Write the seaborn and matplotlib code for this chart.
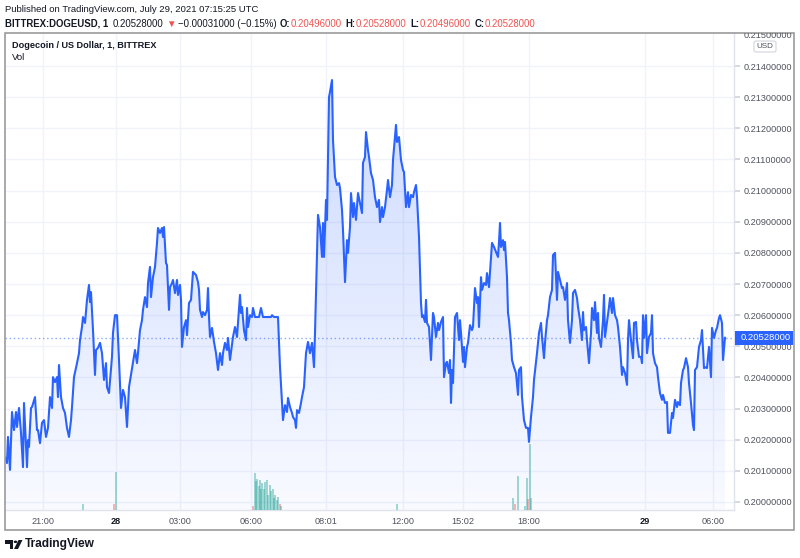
import numpy as np
import pandas as pd
import matplotlib
matplotlib.use('Agg')
import matplotlib.pyplot as plt
import seaborn as sns
from matplotlib.patches import Rectangle, FancyBboxPatch, Polygon, Circle

# ---- data (1-minute DOGEUSD, bar index on x) ----
bar_idx = [
    0, 2, 3, 5, 7, 9, 11, 12, 14, 16, 18, 19, 22, 23, 24, 26, 27, 30, 32, 33,
    35, 37, 39, 41, 43, 45, 47, 48, 50, 52, 53, 54, 56, 58, 60, 62, 64, 66, 67, 69,
    72, 74, 75, 77, 78, 80, 82, 84, 85, 86, 88, 90, 91, 93, 95, 97, 99, 101, 102, 104,
    107, 108, 110, 112, 114, 116, 118, 120, 122, 124, 126, 128, 130, 132, 133, 135, 137, 138, 140, 142,
    143, 145, 146, 148, 150, 152, 153, 155, 157, 158, 159, 161, 162, 164, 165, 167, 168, 170, 172, 173,
    175, 176, 177, 179, 181, 182, 184, 186, 188, 191, 193, 194, 195, 197, 198, 200, 202, 203, 204, 205,
    207, 209, 211, 213, 215, 217, 218, 220, 222, 223, 225, 227, 228, 230, 232, 233, 235, 236, 237, 239,
    241, 242, 243, 245, 247, 248, 250, 252, 254, 256, 258, 260, 262, 264, 266, 267, 269, 271, 273, 275,
    277, 278, 280, 282, 283, 285, 287, 288, 290, 291, 292, 294, 296, 297, 299, 301, 303, 305, 307, 309,
    310, 312, 313, 315, 317, 318, 319, 321, 322, 324, 325, 327, 328, 330, 332, 334, 335, 337, 338, 340,
    342, 343, 345, 346, 348, 349, 351, 353, 354, 357, 358, 360, 361, 363, 364, 366, 368, 370, 372, 374,
    375, 377, 378, 380, 382, 383, 385, 387, 388, 391, 392, 394, 396, 398, 399, 401, 403, 404, 406, 408,
    409, 411, 412, 414, 416, 417, 418, 420, 421, 422, 424, 426, 428, 429, 431, 433, 434, 436, 438, 439,
    441, 442, 444, 445, 446, 447, 448, 450, 452, 454, 455, 456, 458, 459, 460, 462, 463, 465, 467, 468,
    470, 472, 473, 474, 476, 477, 479, 481, 482, 484, 485, 487, 489, 491, 493, 494, 495, 496, 498, 499,
    500, 502, 503, 504, 506, 507, 509, 511, 513, 514, 516, 517, 519, 521, 523, 524, 526, 528, 529, 532,
    534, 536, 537, 539, 540, 542, 543, 545, 547, 548, 550, 552, 553, 557, 558, 560, 562, 563, 565, 567,
    568, 570, 572, 573, 575, 577, 578, 579, 581, 582, 584, 586, 587, 589, 590, 592, 593, 594, 596, 598,
    599, 600, 602, 604, 605, 607, 608, 610, 612, 613, 615, 617, 618, 620, 622, 623, 624, 626, 628, 629,
    631, 632, 634, 636, 637, 638, 639, 641, 642, 644, 646, 647, 648, 650, 652, 653, 655, 657, 658, 660,
    662, 663, 665, 667, 668, 670, 672, 673, 675, 676, 678, 679, 681, 683, 684, 686, 688, 689, 690, 692,
    694, 696, 697, 699, 701, 702, 704, 706, 707, 709, 711, 712, 714, 715, 717, 718, 720,
]
price = [
    0.20144, 0.20125, 0.20209, 0.20103, 0.20289, 0.20231, 0.20289, 0.20241, 0.20302, 0.20222,
    0.20112, 0.20318, 0.20112, 0.20199, 0.20177, 0.20302, 0.20305, 0.20337, 0.20231, 0.20231,
    0.20189, 0.20254, 0.20263, 0.20209, 0.20238, 0.20337, 0.20302, 0.20401, 0.20385, 0.20401,
    0.20337, 0.20440, 0.20337, 0.20302, 0.20286, 0.20238, 0.20209, 0.20263, 0.20305, 0.20401,
    0.20446, 0.20478, 0.20520, 0.20562, 0.20594, 0.20575, 0.20649, 0.20697, 0.20642, 0.20674,
    0.20552, 0.20408, 0.20488, 0.20495, 0.20511, 0.20478, 0.20392, 0.20446, 0.20369, 0.20350,
    0.20466, 0.20543, 0.20600, 0.20600, 0.20456, 0.20302, 0.20360, 0.20337, 0.20241, 0.20369,
    0.20408, 0.20446, 0.20488, 0.20446, 0.20478, 0.20552, 0.20584, 0.20617, 0.20658, 0.20626,
    0.20703, 0.20755, 0.20658, 0.20722, 0.20755, 0.20832, 0.20880, 0.20864, 0.20880, 0.20851,
    0.20883, 0.20767, 0.20761, 0.20617, 0.20690, 0.20703, 0.20713, 0.20671, 0.20713, 0.20665,
    0.20697, 0.20649, 0.20498, 0.20562, 0.20584, 0.20536, 0.20639, 0.20649, 0.20739, 0.20729,
    0.20706, 0.20681, 0.20617, 0.20594, 0.20610, 0.20600, 0.20617, 0.20687, 0.20594, 0.20530,
    0.20559, 0.20514, 0.20478, 0.20424, 0.20478, 0.20440, 0.20478, 0.20511, 0.20488, 0.20527,
    0.20456, 0.20504, 0.20530, 0.20562, 0.20530, 0.20575, 0.20665, 0.20607, 0.20626, 0.20552,
    0.20520, 0.20623, 0.20562, 0.20600, 0.20594, 0.20623, 0.20594, 0.20594, 0.20594, 0.20623,
    0.20594, 0.20594, 0.20594, 0.20594, 0.20594, 0.20600, 0.20594, 0.20594, 0.20594, 0.20433,
    0.20318, 0.20263, 0.20311, 0.20289, 0.20334, 0.20305, 0.20286, 0.20273, 0.20263, 0.20238,
    0.20295, 0.20286, 0.20318, 0.20337, 0.20369, 0.20478, 0.20514, 0.20478, 0.20511, 0.20433,
    0.20543, 0.20787, 0.20922, 0.20883, 0.20787, 0.20896, 0.20787, 0.20970, 0.20906, 0.21300,
    0.21317, 0.21355, 0.21162, 0.21044, 0.21018, 0.21024, 0.21008, 0.20938, 0.20873, 0.20706,
    0.20841, 0.20800, 0.20883, 0.20992, 0.20915, 0.20960, 0.20906, 0.20992, 0.20976, 0.20928,
    0.21089, 0.21108, 0.21188, 0.21130, 0.21108, 0.21056, 0.21034, 0.20979, 0.20947, 0.20970,
    0.20899, 0.20947, 0.20915, 0.20947, 0.21002, 0.21034, 0.20979, 0.21018, 0.21098, 0.21211,
    0.21156, 0.21172, 0.21098, 0.21066, 0.21060, 0.20947, 0.20995, 0.20947, 0.20986, 0.20979,
    0.20995, 0.21018, 0.20979, 0.20851, 0.20639, 0.20594, 0.20600, 0.20578, 0.20649, 0.20575,
    0.20562, 0.20456, 0.20607, 0.20594, 0.20530, 0.20575, 0.20552, 0.20578, 0.20594, 0.20401,
    0.20446, 0.20450, 0.20414, 0.20456, 0.20318, 0.20424, 0.20382, 0.20594, 0.20607, 0.20520,
    0.20584, 0.20543, 0.20450, 0.20498, 0.20433, 0.20498, 0.20511, 0.20568, 0.20552, 0.20562,
    0.20687, 0.20639, 0.20658, 0.20562, 0.20722, 0.20681, 0.20703, 0.20697, 0.20735, 0.20690,
    0.20739, 0.20832, 0.20819, 0.20803, 0.20787, 0.20835, 0.20896, 0.20819, 0.20841, 0.20809,
    0.20835, 0.20722, 0.20607, 0.20584, 0.20511, 0.20456, 0.20433, 0.20414, 0.20344, 0.20424,
    0.20433, 0.20337, 0.20263, 0.20238, 0.20238, 0.20193, 0.20273, 0.20337, 0.20392, 0.20478,
    0.20543, 0.20575, 0.20530, 0.20462, 0.20511, 0.20584, 0.20600, 0.20658, 0.20681, 0.20793,
    0.20800, 0.20649, 0.20739, 0.20687, 0.20690, 0.20649, 0.20703, 0.20584, 0.20511, 0.20584,
    0.20671, 0.20681, 0.20655, 0.20626, 0.20584, 0.20520, 0.20610, 0.20552, 0.20562, 0.20520,
    0.20446, 0.20543, 0.20623, 0.20584, 0.20642, 0.20543, 0.20607, 0.20527, 0.20498, 0.20584,
    0.20665, 0.20530, 0.20578, 0.20626, 0.20655, 0.20607, 0.20655, 0.20600, 0.20584, 0.20562,
    0.20498, 0.20408, 0.20433, 0.20414, 0.20376, 0.20520, 0.20584, 0.20520, 0.20462, 0.20575,
    0.20578, 0.20520, 0.20466, 0.20466, 0.20446, 0.20600, 0.20527, 0.20600, 0.20478, 0.20530,
    0.20543, 0.20600, 0.20478, 0.20446, 0.20433, 0.20401, 0.20350, 0.20328, 0.20344, 0.20318,
    0.20321, 0.20222, 0.20222, 0.20286, 0.20270, 0.20328, 0.20305, 0.20321, 0.20311, 0.20382,
    0.20424, 0.20430, 0.20462, 0.20433, 0.20382, 0.20318, 0.20247, 0.20231, 0.20424, 0.20433,
    0.20498, 0.20520, 0.20552, 0.20430, 0.20433, 0.20430, 0.20498, 0.20401, 0.20559, 0.20527,
    0.20552, 0.20559, 0.20591, 0.20600, 0.20575, 0.20456, 0.20528,
]

# volume spikes (bar index, volume in k DOGE, direction)
vol_bar = [78, 109, 111, 248, 250, 251, 252, 254, 255, 256, 257, 259, 260, 262, 263, 265, 266,
           268, 269, 270, 272, 273, 275, 276, 392, 508, 510, 513, 520, 522, 523, 525, 526]
vol_value = [60, 60, 370, 40, 360, 280, 300, 230, 290, 200, 260, 200, 270, 290, 150, 240, 180,
             200, 120, 150, 100, 130, 60, 40, 60, 120, 60, 330, 40, 310, 110, 640, 120]
vol_up = [1, 0, 1, 0, 1, 1, 1, 1, 1, 1, 1, 1, 1, 1, 1, 1, 1,
          1, 1, 1, 1, 1, 0, 1, 1, 1, 0, 1, 1, 1, 0, 1, 1]

time_tick_bar = [38, 111, 175, 246, 321, 398, 458, 524, 640, 708]
time_tick_label = ['21:00', '28', '03:00', '06:00', '08:01', '12:00', '15:02', '18:00', '29', '06:00']
day_labels = {'28', '29'}
price_ticks = [0.200, 0.201, 0.202, 0.203, 0.204, 0.205, 0.206, 0.207,
               0.208, 0.209, 0.210, 0.211, 0.212, 0.213, 0.214]
last_price = 0.20528

df = pd.DataFrame({'bar': bar_idx, 'price': price})
vol = pd.DataFrame({'bar': vol_bar, 'vol': vol_value, 'up': vol_up})

sns.set_theme(style='white')
plt.rcParams['font.family'] = ['Liberation Sans', 'DejaVu Sans']

W, H = 800, 558
fig = plt.figure(figsize=(W / 100, H / 100), dpi=100)


def fx(x):
    return x / W


def fy(y):
    return 1 - y / H


LINE = '#2962ff'
TXT = '#131722'
AXT = '#50535e'
GRID = '#f0f3fa'
RED = '#ef5350'

ax = fig.add_axes([fx(5), fy(510), (734 - 5) / W, (510 - 33) / H])
axv = ax.twinx()

y_lo, y_hi = 0.199743, 0.215061
x_lo, x_hi = 0, 729

# price line
sns.lineplot(data=df, x='bar', y='price', ax=ax, color=LINE, linewidth=1.5,
             estimator=None, sort=False, zorder=4)

# gradient fill under the line
fill = ax.fill_between(df['bar'], df['price'], y_lo, color='none', linewidth=0)
grad = np.linspace(0.26, 0.03, 256).reshape(-1, 1)
rgba = np.zeros((256, 1, 4))
rgba[..., 0] = 41 / 255
rgba[..., 1] = 98 / 255
rgba[..., 2] = 1.0
rgba[..., 3] = grad
img = ax.imshow(rgba, extent=[x_lo, x_hi, y_lo, y_hi], aspect='auto', origin='upper', zorder=1)
img.set_clip_path(fill.get_paths()[0], transform=ax.transData)

ax.axhline(last_price, color=LINE, alpha=0.55, linestyle=(0, (1, 2)), linewidth=1, zorder=2)

ax.set_xlim(x_lo, x_hi)
ax.set_ylim(y_lo, y_hi)

# volume bars on a twin axis
colors = np.where(vol['up'] == 1, '#26a69a', RED)
axv.bar(vol['bar'], vol['vol'], width=1.3, color=colors, alpha=0.42, linewidth=0)
axv.set_ylim(0, max(vol_value) * 477 / 66)
axv.set_xlim(x_lo, x_hi)
axv.set_yticks([])
for s in axv.spines.values():
    s.set_visible(False)

ax.set_xticks(time_tick_bar)
ax.set_xticklabels(time_tick_label)
for lbl in ax.get_xticklabels():
    lbl.set_color(TXT if lbl.get_text() in day_labels else AXT)
    if lbl.get_text() in day_labels:
        lbl.set_fontweight('bold')
ax.tick_params(axis='x', length=0, pad=5, labelsize=6.6)

ax.yaxis.tick_right()
ax.set_yticks(price_ticks)
ax.set_yticklabels([f'{p:.8f}' for p in price_ticks])
ax.tick_params(axis='y', length=4, color='#d1d4dc', pad=3, labelsize=6.6, labelcolor=AXT)
ax.set_xlabel('')
ax.set_ylabel('')

ax.grid(True, color=GRID, linewidth=1)
ax.set_axisbelow(True)
for name, s in ax.spines.items():
    if name in ('right', 'bottom'):
        s.set_color('#e0e3eb')
        s.set_linewidth(1)
    else:
        s.set_visible(False)

# clipped top label 0.215 and USD badge
price_area = Rectangle((fx(734), fy(530)), (794 - 734) / W, (530 - 33) / H,
                       transform=fig.transFigure, facecolor='none', edgecolor='none')
fig.add_artist(price_area)
top_lbl = fig.text(fx(744), fy(35), '0.21500000', fontsize=6.6, color=AXT, va='center', ha='left')
top_lbl.set_clip_path(price_area)
fig.add_artist(FancyBboxPatch((fx(754), fy(52)), 22 / W, 11 / H, boxstyle='round,pad=0,rounding_size=0.003',
                              transform=fig.transFigure, facecolor='white', edgecolor='#d1d4dc', linewidth=0.8))
fig.text(fx(765), fy(46.5), 'USD', fontsize=5.8, color=AXT, ha='center', va='center')

# last price badge
fig.add_artist(Rectangle((fx(735), fy(345)), (793 - 735) / W, 14 / H, transform=fig.transFigure,
                         facecolor=LINE, edgecolor='none'))
fig.text(fx(741), fy(338), f'{last_price:.8f}', fontsize=6.8, color='white', va='center', ha='left')

# outer frame
fig.add_artist(Rectangle((fx(5), fy(530)), (794 - 5) / W, (530 - 33) / H, transform=fig.transFigure,
                         facecolor='none', edgecolor='#9b9b9b', linewidth=1.2))

# legend text inside the pane
fig.text(fx(12), fy(45), 'Dogecoin / US Dollar, 1, BITTREX', fontsize=6.6, fontweight='bold',
         color=TXT, va='center')
fig.text(fx(12), fy(57.5), 'Vol', fontsize=6.8, color=TXT, va='center')

# header
fig.text(fx(5), fy(9), 'Published on TradingView.com, July 29, 2021 07:15:25 UTC', fontsize=6.8,
         color=TXT, va='center')
header = [
    ('BITTREX:DOGEUSD, 1', 'bold', TXT, 4),
    ('0.20528000', 'normal', TXT, 3),
    ('\u25bc', 'normal', RED, 2),
    ('\u22120.00031000 (\u22120.15%)', 'normal', TXT, 4),
    ('O:', 'bold', TXT, 0),
    ('0.20496000', 'normal', RED, 4),
    ('H:', 'bold', TXT, 0),
    ('0.20528000', 'normal', RED, 4),
    ('L:', 'bold', TXT, 0),
    ('0.20496000', 'normal', RED, 4),
    ('C:', 'bold', TXT, 0),
    ('0.20528000', 'normal', RED, 0),
]
renderer = fig.canvas.get_renderer()
cur_x = 5
for text, weight, col, gap in header:
    t = fig.text(fx(cur_x), fy(24), text, fontsize=6.95, fontweight=weight, color=col, va='center')
    cur_x += t.get_window_extent(renderer).width + gap

# TradingView logo
fig.add_artist(Rectangle((fx(5), fy(543.5)), 8 / W, 3.5 / H, transform=fig.transFigure,
                         facecolor=TXT, edgecolor='none'))
fig.add_artist(Rectangle((fx(9.5), fy(549)), 3.5 / W, 9 / H, transform=fig.transFigure,
                         facecolor=TXT, edgecolor='none'))
fig.add_artist(Circle((fx(15.5), fy(541.8)), 1.8 / W, transform=fig.transFigure,
                      facecolor=TXT, edgecolor='none'))
fig.add_artist(Polygon([(fx(18.5), fy(540)), (fx(22.5), fy(540)), (fx(18), fy(549)), (fx(14), fy(549))],
                       closed=True, transform=fig.transFigure, facecolor=TXT, edgecolor='none'))
fig.text(fx(25), fy(544.5), 'TradingView', fontsize=8.6, fontweight='bold', color=TXT, va='center')

fig.savefig('out.png', dpi=100, facecolor='white')
plt.close(fig)
